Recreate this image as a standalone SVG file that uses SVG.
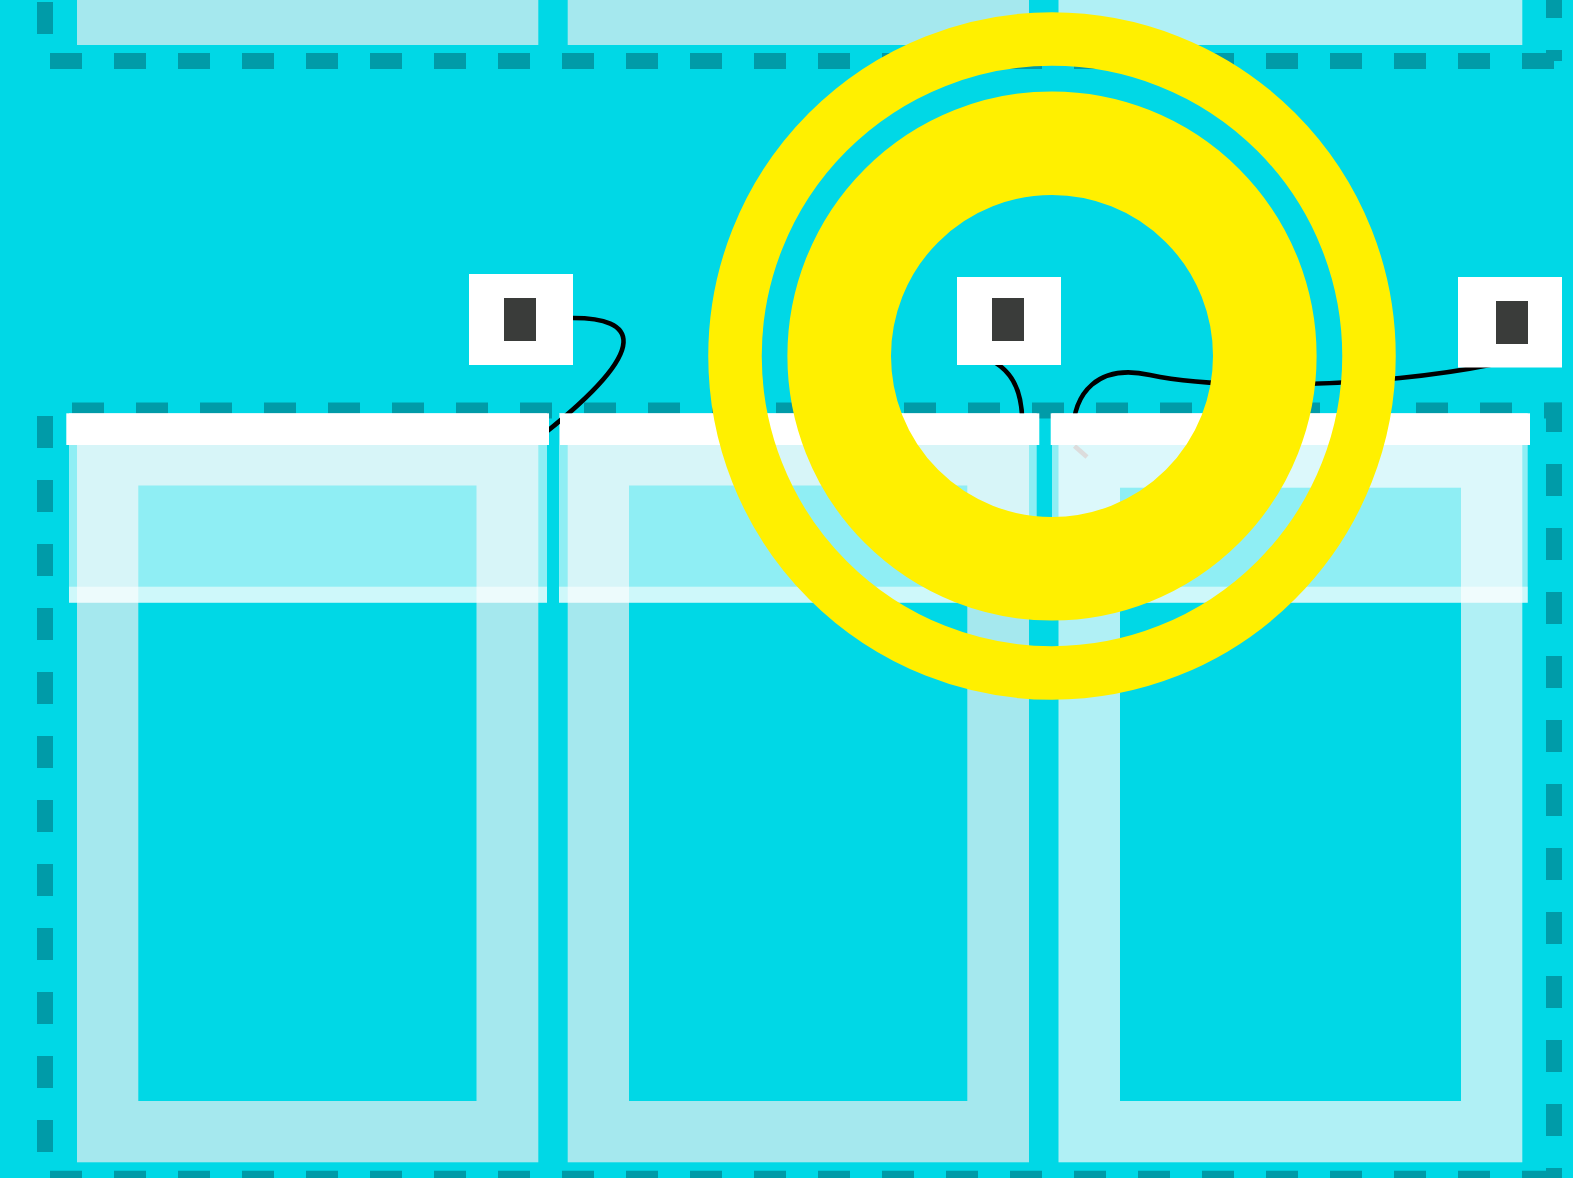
<svg xmlns="http://www.w3.org/2000/svg" width="1573" height="1178" viewBox="0 0 1573 1178">
<style>
.dash{stroke:#009BA8;stroke-width:16;stroke-dasharray:32 32;fill:none}
.lightA{fill:#A5E8EE}
.lightB{fill:#B0F0F5}
.inner{fill:#00D8E6}
.ov{fill:#FFFFFF;fill-opacity:0.56}
.hdr{fill:#FFFFFF}
.box{fill:#FFFFFF}
.port{fill:#3A3C3A}
.ring{fill:none;stroke:#FFF000}
.wire{fill:none;stroke:#000000;stroke-width:4.6}
</style>
<rect x="0" y="0" width="1573" height="1178" fill="#00D8E6"/>
<g id="frame-top">
<line class="dash" x1="50" y1="61" x2="1554" y2="61"/>
<line class="dash" x1="45" y1="2" x2="45" y2="61"/>
<line class="dash" x1="1554" y1="-14" x2="1554" y2="61"/>
</g>
<g id="frame-bottom">
<line class="dash" x1="72" y1="410.5" x2="1562" y2="410.5"/>
<line class="dash" x1="1554" y1="402.7" x2="1554" y2="1187" style="stroke-dashoffset:2.7"/>
<line class="dash" x1="45" y1="416" x2="45" y2="1178"/>
<line class="dash" x1="50" y1="1178.7" x2="1554" y2="1178.7"/>
</g>
<g id="top-row">
<rect class="lightA" x="77" y="-20" width="461.3" height="65"/>
<rect class="lightA" x="567.7" y="-20" width="461.3" height="65"/>
<rect class="lightB" x="1058.5" y="-20" width="463.8" height="65"/>
</g>
<g id="col1">
<rect class="lightA" x="77" y="424" width="461.3" height="738.3"/>
<rect class="inner" x="138.3" y="485.5" width="338.2" height="615.5"/>
</g>
<g id="col2">
<rect class="lightA" x="567.7" y="424" width="461.3" height="738.3"/>
<rect class="inner" x="629" y="485.5" width="338.3" height="615.5"/>
</g>
<g id="col3">
<rect class="lightB" x="1058.5" y="426" width="463.8" height="736.3"/>
<rect class="inner" x="1120" y="487.7" width="341" height="613.3"/>
</g>
<g id="overlays">
<rect class="ov" x="69" y="413" width="478" height="189.7"/>
<rect class="ov" x="69" y="586.7" width="478" height="16"/>
<rect class="ov" x="559" y="413" width="477.7" height="189.7"/>
<rect class="ov" x="559" y="586.7" width="477.7" height="16"/>
<rect class="ov" x="1052" y="413" width="475.7" height="189.7"/>
<rect class="ov" x="1052" y="586.7" width="475.7" height="16"/>
</g>
<g id="connectors">
<path class="wire" d="M573 318 C635 318 655 345 545 433"/>
<path class="wire" d="M990 360 C1012 370 1024 392 1022 430"/>
<path class="wire" d="M1073 440 C1071 390 1100 364 1150 375 C1200 386 1300 388 1400 378 C1440 374 1470 369 1495 364"/>
<path d="M1074.5 446 L1087 457" fill="none" stroke="#DCDCDC" stroke-width="4.6"/>
</g>
<g id="headers">
<rect class="hdr" x="66.3" y="413.3" width="482.7" height="31.7"/>
<rect class="hdr" x="560" y="413.3" width="479.3" height="31.7"/>
<rect class="hdr" x="1050.7" y="413.3" width="479.3" height="31.7"/>
</g>
<g id="box1">
<rect class="box" x="469" y="274" width="104" height="91"/>
<rect class="port" x="504" y="298" width="32" height="43"/>
</g>
<g id="box2">
<rect class="box" x="957" y="277" width="104" height="88"/>
<rect class="port" x="992" y="298" width="32" height="43"/>
</g>
<g id="box3">
<rect class="box" x="1458" y="277" width="104" height="90.5"/>
<rect class="port" x="1496" y="301" width="32" height="43"/>
</g>
<g id="rings">
<circle class="ring" cx="1052" cy="356" r="317" stroke-width="53.5"/>
<circle class="ring" cx="1052" cy="356" r="212.8" stroke-width="103.6"/>
</g>
</svg>
